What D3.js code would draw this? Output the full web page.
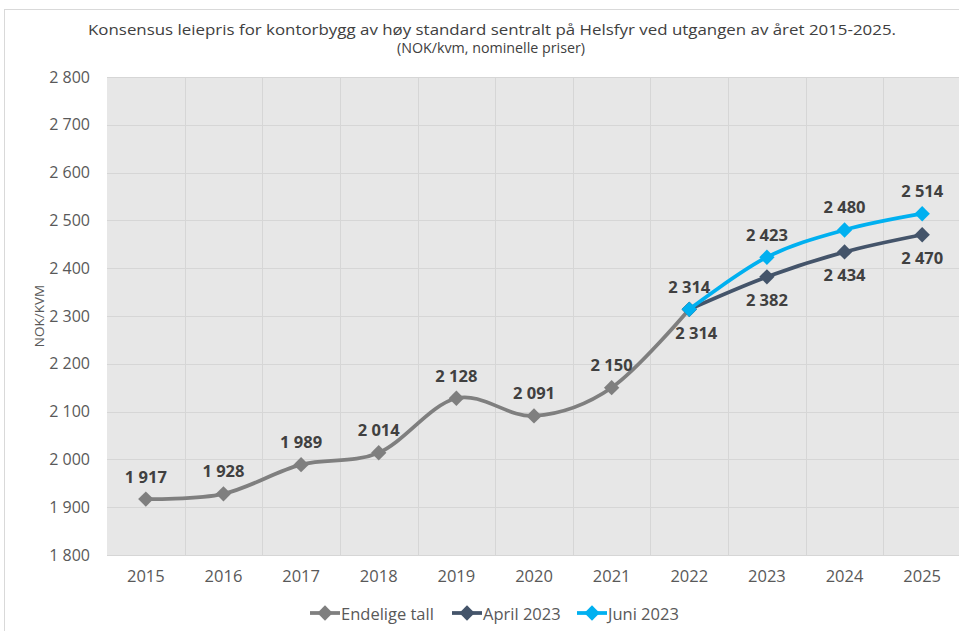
<!DOCTYPE html>
<html>
<head>
<meta charset="utf-8">
<script src="https://cdn.jsdelivr.net/npm/d3@7"></script>
<style>
  body { margin: 0; background: #fff; }
  svg { display: block; font-family: "Open Sans", "Noto Sans", sans-serif; }
</style>
</head>
<body>
<svg id="chart1"></svg>
<script>
// data
var years = ["2015", "2016", "2017", "2018", "2019", "2020", "2021", "2022", "2023", "2024", "2025"];
var endeligeYears = ["2015", "2016", "2017", "2018", "2019", "2020", "2021", "2022"];
var endeligeValues = [1917, 1928, 1989, 2014, 2128, 2091, 2150, 2314];
var prognoseYears = ["2022", "2023", "2024", "2025"];
var aprilValues = [2314, 2382, 2434, 2470];
var juniValues = [2314, 2423, 2480, 2514];
var yTicks = [1800, 1900, 2000, 2100, 2200, 2300, 2400, 2500, 2600, 2700, 2800];
var seriesNames = ["Endelige tall", "April 2023", "Juni 2023"];

var colors = { grey: "#7f7f7f", april: "#44546a", juni: "#00b0f0" };

var W = 959, H = 631;
var margin = {top: 77, right: -2, bottom: 76, left: 107};
var width = W - margin.left - margin.right,
    height = H - margin.top - margin.bottom;

var root = d3.select("#chart1").attr("width", W).attr("height", H);

// chart area border
root.append("rect")
  .attr("x", 4.5).attr("y", 9.5)
  .attr("width", W).attr("height", H)
  .attr("fill", "none").attr("stroke", "#d9d9d9");

// title
var title = root.append("g").attr("fill", "#404040").attr("font-size", 14).attr("text-anchor", "middle");
title.append("text").attr("x", 492).attr("y", 35)
  .attr("textLength", 808).attr("lengthAdjust", "spacingAndGlyphs")
  .text("Konsensus leiepris for kontorbygg av høy standard sentralt på Helsfyr ved utgangen av året 2015-2025.");
title.append("text").attr("x", 491).attr("y", 53)
  .attr("textLength", 188).attr("lengthAdjust", "spacingAndGlyphs")
  .text("(NOK/kvm, nominelle priser)");

var svg = root.append("g").attr("transform", "translate(" + margin.left + "," + margin.top + ")");

var x = d3.scaleBand().domain(years).range([0, width]);
var y = d3.scaleLinear().domain([1800, 2800]).range([height, 0]);
var cx = function(yr) { return x(yr) + x.bandwidth() / 2; };

// plot background
svg.append("rect").attr("width", width).attr("height", height).attr("fill", "#e7e7e7");

// horizontal grid
svg.append("g").selectAll("line").data(yTicks).enter().append("line")
  .attr("x1", 0).attr("x2", width)
  .attr("y1", function(d) { return Math.round(y(d)) + 0.5; })
  .attr("y2", function(d) { return Math.round(y(d)) + 0.5; })
  .attr("stroke", "#d6d6d6").attr("stroke-width", 1);

// vertical grid at band edges
svg.append("g").selectAll("line").data(years.slice(1)).enter().append("line")
  .attr("x1", function(d) { return Math.round(x(d)) + 0.5; })
  .attr("x2", function(d) { return Math.round(x(d)) + 0.5; })
  .attr("y1", 0).attr("y2", height)
  .attr("stroke", "#d6d6d6").attr("stroke-width", 1);

// axes
var yAxis = svg.append("g")
  .call(d3.axisLeft(y).tickValues(yTicks).tickSize(0).tickPadding(17)
    .tickFormat(function(d) { return d3.format(",")(d).replace(",", " "); }));
yAxis.select(".domain").remove();
yAxis.selectAll("text").attr("fill", "#595959").attr("font-size", 16).attr("font-family", "Open Sans, sans-serif");

var xAxis = svg.append("g").attr("transform", "translate(0," + height + ")")
  .call(d3.axisBottom(x).tickSize(0).tickPadding(15));
xAxis.select(".domain").remove();
xAxis.selectAll("text").attr("fill", "#595959").attr("font-size", 16.5).attr("font-family", "Open Sans, sans-serif");

root.append("text")
  .attr("transform", "translate(39," + (margin.top + height / 2) + ") rotate(-90)")
  .attr("text-anchor", "middle").attr("dominant-baseline", "central")
  .attr("fill", "#595959").attr("font-size", 13.5)
  .text("NOK/KVM");

var line = d3.line()
  .x(function(d) { return cx(d[0]); })
  .y(function(d) { return y(d[1]); })
  .curve(d3.curveCardinal.tension(0));

var diamond = d3.symbol().type(d3.symbolDiamond2).size(150);
var fmt = function(v) { return d3.format(",")(v).replace(",", " "); };

function drawSeries(yrs, vals, color) {
  var pts = yrs.map(function(yr, i) { return [yr, vals[i]]; });
  svg.append("path").datum(pts)
    .attr("d", line).attr("fill", "none")
    .attr("stroke", color).attr("stroke-width", 3.75)
    .attr("stroke-linecap", "round");
  svg.append("g").selectAll("path").data(pts).enter().append("path")
    .attr("d", diamond)
    .attr("transform", function(d) { return "translate(" + cx(d[0]) + "," + y(d[1]) + ")"; })
    .attr("fill", color);
  return pts;
}

function drawLabels(pts, dy, dx) {
  svg.append("g").selectAll("text").data(pts).enter().append("text")
    .attr("x", function(d) { return cx(d[0]) + (dx || 0); })
    .attr("y", function(d) { return y(d[1]) + dy; })
    .attr("text-anchor", "middle").attr("dominant-baseline", "central")
    .attr("fill", "#404040").attr("font-size", 16.5).attr("font-weight", "bold")
    .text(function(d) { return fmt(d[1]); });
}

var ePts = drawSeries(endeligeYears, endeligeValues, colors.grey);
var aPts = drawSeries(prognoseYears, aprilValues, colors.april);
var jPts = drawSeries(prognoseYears, juniValues, colors.juni);

drawLabels(ePts, -23, 0);
drawLabels(aPts.slice(1), 23, 0);
drawLabels(aPts.slice(0, 1), 23, 7);
drawLabels(jPts.slice(1), -23, 0);

// legend
var legendX = [310, 452, 577];
var legendColors = [colors.grey, colors.april, colors.juni];
var legend = root.append("g").attr("transform", "translate(0,613)");
var items = legend.selectAll("g").data(seriesNames).enter().append("g")
  .attr("transform", function(d, i) { return "translate(" + legendX[i] + ",0)"; });
items.append("line").attr("x1", 0).attr("x2", 30).attr("y1", 0).attr("y2", 0)
  .attr("stroke", function(d, i) { return legendColors[i]; }).attr("stroke-width", 3.75);
items.append("path").attr("d", diamond).attr("transform", "translate(15,0)")
  .attr("fill", function(d, i) { return legendColors[i]; });
items.append("text").attr("x", 31).attr("y", 0).attr("dominant-baseline", "central")
  .attr("fill", "#595959").attr("font-size", 16.5)
  .text(function(d) { return d; });
</script>
</body>
</html>
